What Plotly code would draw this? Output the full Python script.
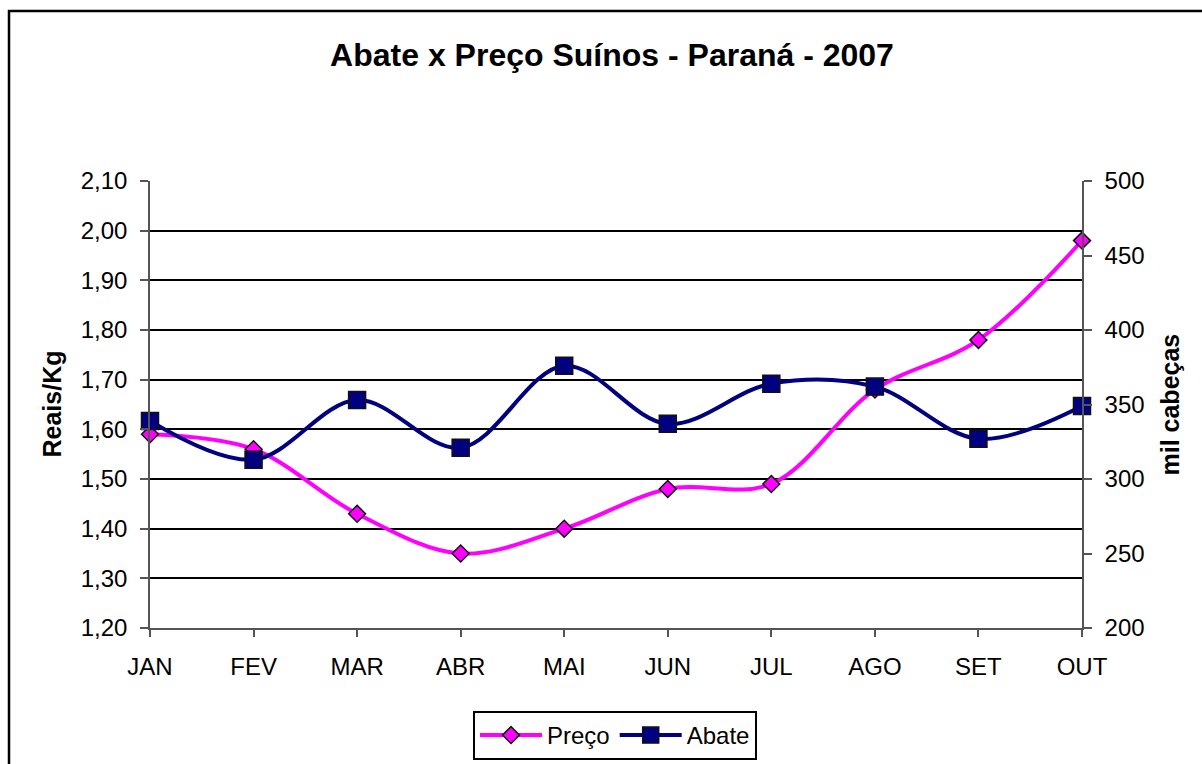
import plotly.graph_objects as go

months = ["JAN", "FEV", "MAR", "ABR", "MAI", "JUN", "JUL", "AGO", "SET", "OUT"]
preco = [1.59, 1.56, 1.43, 1.35, 1.40, 1.48, 1.49, 1.68, 1.78, 1.98]
abate = [339, 313, 353, 321, 376, 337, 364, 362, 327, 349]
left_ticks = [1.20, 1.30, 1.40, 1.50, 1.60, 1.70, 1.80, 1.90, 2.00, 2.10]
right_ticks = [200, 250, 300, 350, 400, 450, 500]

FONT = "Liberation Sans, Arial, sans-serif"
x = list(range(len(months)))

fig = go.Figure()
fig.add_trace(go.Scatter(
    x=x, y=preco, name="Preço", mode="lines+markers", cliponaxis=False,
    line=dict(color="#FF00FF", width=4, shape="spline", smoothing=1),
    marker=dict(symbol="diamond", size=13, color="#FF00FF",
                line=dict(color="#111111", width=1.5)),
    yaxis="y",
))
fig.add_trace(go.Scatter(
    x=x, y=abate, name="Abate", mode="lines+markers", cliponaxis=False,
    line=dict(color="#000080", width=4, shape="spline", smoothing=1),
    marker=dict(symbol="square", size=17, color="#000080",
                line=dict(color="#111111", width=1.5)),
    yaxis="y2",
))

W, H = 1202, 764
L, R, T, B = 150, 120, 181, 136
pw, ph = W - L - R, H - T - B

def px_x(p):
    return (p - L) / pw

def px_y(p):
    return (H - B - p) / ph

fig.update_layout(
    width=W, height=H,
    margin=dict(l=L, r=R, t=T, b=B, pad=0, autoexpand=False),
    paper_bgcolor="white", plot_bgcolor="white",
    font=dict(family=FONT, size=24, color="black"),
    title=dict(text="<b>Abate x Preço Suínos - Paraná - 2007</b>",
               font=dict(family=FONT, size=32, color="black"),
               x=px_x(612), xref="paper", xanchor="center",
               y=1 - 55 / H, yref="container", yanchor="middle"),
    xaxis=dict(range=[0, 9], tickvals=x, ticktext=months, automargin=False,
               showgrid=False, zeroline=False,
               showline=True, linecolor="#555555", linewidth=1.5,
               ticks="outside", ticklen=7, tickwidth=1.5, tickcolor="#555555",
               ticklabelstandoff=9,
               tickfont=dict(size=24)),
    yaxis=dict(range=[1.20, 2.10], tickvals=left_ticks, automargin=False,
               ticktext=[f"{v:.2f}".replace(".", ",") for v in left_ticks],
               showgrid=True, gridcolor="black", gridwidth=1.5,
               zeroline=False, showline=True, linecolor="#555555", linewidth=1.5,
               ticks="outside", ticklen=8, tickwidth=1.5, tickcolor="#555555",
               ticklabelstandoff=8,
               tickfont=dict(size=24)),
    yaxis2=dict(range=[200, 500], tickvals=right_ticks, automargin=False,
                ticktext=[str(v) for v in right_ticks],
                overlaying="y", side="right", showgrid=False, zeroline=False,
                showline=True, linecolor="#555555", linewidth=1.5,
                ticks="outside", ticklen=8, tickwidth=1.5, tickcolor="#555555",
                ticklabelstandoff=8,
                tickfont=dict(size=24)),
    showlegend=True,
    legend=dict(orientation="h", x=px_x(615), xanchor="center",
                y=px_y(711), yanchor="top",
                bordercolor="black", borderwidth=2, bgcolor="white",
                font=dict(family=FONT, size=24, color="black"),
                itemwidth=62, tracegroupgap=0),
    annotations=[
        dict(text="<b>Reais/Kg</b>", textangle=-90, x=px_x(51), y=0.5,
             xref="paper", yref="paper", showarrow=False,
             xanchor="center", yanchor="middle",
             font=dict(family=FONT, size=25, color="black")),
        dict(text="<b>mil cabeças</b>", textangle=-90, x=px_x(1169), y=0.5,
             xref="paper", yref="paper", showarrow=False,
             xanchor="center", yanchor="middle",
             font=dict(family=FONT, size=25, color="black")),
    ],
    shapes=[
        dict(type="rect", xref="paper", yref="paper",
             x0=px_x(9), x1=px_x(1260), y0=px_y(790), y1=px_y(11),
             line=dict(color="black", width=2.5), fillcolor="rgba(0,0,0,0)",
             layer="above"),
    ],
)

fig.write_html("out.html", config={"displayModeBar": False},
               post_script="document.body.style.margin='0';")
